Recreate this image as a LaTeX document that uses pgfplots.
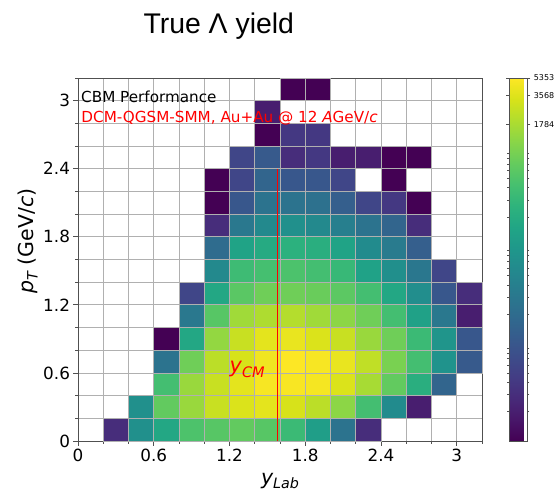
\documentclass[border=0pt]{standalone}
\usepackage{fontspec}
\setmainfont{DejaVu Sans}
\newfontfamily\arialfont{Liberation Sans}
\usepackage{pgfplots}
\pgfplotsset{compat=1.18}
\usepackage{pgfplotstable}
\usetikzlibrary{calc}

\definecolor{gridgray}{HTML}{B0B0B0}
\definecolor{spinegray}{HTML}{505050}

% one histogram bin: the axis is 404pt x 363pt over 16 x 16 bins of width 0.2
\pgfdeclareplotmark{cell}{%
  \pgfpathrectangle{\pgfpoint{-12.625pt}{-11.34375pt}}{\pgfpoint{25.25pt}{22.6875pt}}%
  \pgfusepathqfillstroke}

% Lambda yield per (y_Lab, p_T) bin: bin centres and counts (empty bins omitted)
\pgfplotstableread{
x   y   n
0.3 0.1 3
0.5 0.1 73
0.7 0.1 170
0.9 0.1 480
1.1 0.1 570
1.3 0.1 680
1.5 0.1 570
1.7 0.1 340
1.9 0.1 122
2.1 0.1 26
2.3 0.1 3
0.5 0.3 73
0.7 0.3 680
0.9 0.3 1450
1.1 0.3 2650
1.3 0.3 3400
1.5 0.3 3800
1.7 0.3 3200
1.9 0.3 2260
2.1 0.3 1230
2.3 0.3 408
2.5 0.3 62
2.7 0.3 2
0.7 0.5 408
0.9 0.5 1450
1.1 0.5 2650
1.3 0.5 3800
1.5 0.5 4900
1.7 0.5 5000
1.9 0.5 4800
2.1 0.5 3400
2.3 0.5 1750
2.5 0.5 680
2.7 0.5 220
2.9 0.5 16
0.7 0.7 26
0.9 0.7 820
1.1 0.7 2260
1.3 0.7 3200
1.5 0.7 4500
1.7 0.7 5353
1.9 0.7 4900
2.1 0.7 4100
2.3 0.7 2400
2.5 0.7 950
2.7 0.7 408
2.9 0.7 80
3.1 0.7 11
0.7 0.9 1
0.9 0.9 170
1.1 0.9 1350
1.3 0.9 2650
1.5 0.9 3800
1.7 0.9 4100
1.9 0.9 3400
2.1 0.9 2650
2.3 0.9 1450
2.5 0.9 820
2.7 0.9 340
2.9 0.9 87
3.1 0.9 10
0.9 1.1 31
1.1 1.1 570
1.3 1.1 1600
1.5 1.1 1900
1.7 1.1 2050
1.9 1.1 1600
2.1 1.1 1230
2.3 1.1 820
2.5 1.1 408
2.7 1.1 133
2.9 1.1 31
3.1 1.1 2
0.9 1.3 6
1.1 1.3 170
1.3 1.3 600
1.5 1.3 820
1.7 1.3 820
1.9 1.3 750
2.1 1.3 620
2.3 1.3 408
2.5 1.3 170
2.7 1.3 67
2.9 1.3 10
3.1 1.3 3
1.1 1.5 57
1.3 1.5 360
1.5 1.5 420
1.7 1.5 470
1.9 1.5 408
2.1 1.5 320
2.3 1.5 140
2.5 1.5 70
2.7 1.5 30
2.9 1.5 6
1.1 1.7 20
1.3 1.7 146
1.5 1.7 190
1.7 1.7 240
1.9 1.7 220
2.1 1.7 146
2.3 1.7 62
2.5 1.7 34
2.7 1.7 13
1.1 1.9 3
1.3 1.9 31
1.5 1.9 57
1.7 1.9 73
1.9 1.9 57
2.1 1.9 40
2.3 1.9 26
2.5 1.9 16
2.7 1.9 3
1.1 2.1 1
1.3 2.1 10
1.5 2.1 26
1.7 2.1 26
1.9 2.1 24
2.1 2.1 13
2.3 2.1 6
2.5 2.1 4
2.7 2.1 1
1.1 2.3 1
1.3 2.3 6
1.5 2.3 16
1.7 2.3 10
1.9 2.3 10
2.1 2.3 6
2.5 2.3 1
1.3 2.5 6
1.5 2.5 11
1.7 2.5 3
1.9 2.5 4
2.1 2.5 2
2.3 2.5 2
2.5 2.5 1
2.7 2.5 1
1.5 2.7 1
1.7 2.7 4
1.9 2.7 4
1.5 2.9 2
1.7 3.1 1
1.9 3.1 1
}\lambdayield

\begin{document}
\begin{tikzpicture}
\node[anchor=base west, inner sep=0pt, font=\arialfont\fontsize{28.4}{34}\selectfont]
  at (143.3pt,457.5pt) {True Λ yield};

\begin{axis}[
  at={(78pt,50pt)}, anchor=south west,
  scale only axis, width=404pt, height=363pt,
  xmin=0, xmax=3.2, ymin=0, ymax=3.2,
  xtick={0,0.6,1.2,1.8,2.4,3}, xticklabels={0,0.6,1.2,1.8,2.4,3},
  ytick={0,0.6,1.2,1.8,2.4,3}, yticklabels={0,0.6,1.2,1.8,2.4,3},
  minor xtick={0.2,0.4,0.8,1,1.4,1.6,2,2.2,2.6,2.8,3.2},
  minor ytick={0.2,0.4,0.8,1,1.4,1.6,2,2.2,2.6,2.8,3.2},
  grid=both,
  major grid style={gridgray, line width=0.8pt},
  minor grid style={gridgray, line width=0.8pt},
  tick align=outside, tick pos=left,
  major tick length=4.5pt, minor tick length=2.5pt,
  every tick/.style={spinegray, line width=0.8pt},
  axis line style={spinegray, line width=0.8pt},
  ticklabel style={font=\fontsize{16.8}{20}\selectfont},
  xlabel={\fontsize{20.5}{24}\selectfont\itshape y\raisebox{-4pt}{\fontsize{14.3}{16}\selectfont Lab}},
  xlabel style={at={(axis description cs:0.5,0)}, anchor=base, yshift=-43.3pt, inner sep=0pt},
  ylabel={\fontsize{20.5}{24}\selectfont\itshape p\raisebox{-4pt}{\fontsize{14.3}{16}\selectfont T}\upshape\ (GeV/\textit{c})},
  ylabel style={at={(axis description cs:-0.124,0.551)}, anchor=center, inner sep=0pt},
  colormap/viridis,
  point meta min=0, point meta max=3.7286,
  colorbar,
  colorbar style={
    at={(parent axis.north east)}, anchor=north west, xshift=18.5pt,
    width=18.3pt,
    ytick={3.2514,3.5524,3.7285},
    yticklabels={1784,3568,5353},
    minor ytick={0.3010,0.4771,0.6021,0.6990,0.7782,0.8451,0.9031,0.9542,
                 1.3010,1.4771,1.6021,1.6990,1.7782,1.8451,1.9031,1.9542,
                 2.3010,2.4771,2.6021,2.6990,2.7782,2.8451,2.9031,2.9542},
    yticklabel style={font=\fontsize{8}{9}\selectfont},
    tick align=outside,
    major tick length=3pt, minor tick length=2pt,
    every tick/.style={spinegray, line width=0.6pt},
    axis line style={spinegray, line width=0.6pt},
    grid=none,
  },
]
\addplot[scatter, only marks, mark=cell,
  mark options={line width=0.8pt},
  point meta={ln(\thisrow{n})/ln(10)},
  scatter/use mapped color={draw=gridgray, fill=mapped color}]
  table[x=x, y=y] {\lambdayield};

% anchor points for the annotations, drawn after the bins
\coordinate (ycmlo) at (axis cs:1.58,0);
\coordinate (ycmhi) at (axis cs:1.58,2.4);
\coordinate (cbmtxt) at (axis cs:0.024,2.988);
\coordinate (gentxt) at (axis cs:0.026,2.806);
\coordinate (ycmtxt) at (axis cs:1.2,0.6);
\end{axis}

% centre-of-mass rapidity: a 1.3pt red rule from p_T = 0 to 2.4
\path let \p1=(ycmlo), \p2=(ycmhi) in
  node[anchor=south, inner sep=0pt, text=red] at (ycmlo)
  {\rule{1.3pt}{\dimexpr\y2-\y1\relax}};
\node[anchor=base west, inner sep=0pt, font=\fontsize{15.2}{18}\selectfont]
  at (cbmtxt) {CBM Performance};
\node[anchor=base west, inner sep=0pt, text=red, font=\fontsize{15.2}{18}\selectfont]
  at (gentxt) {DCM-QGSM-SMM, Au+Au @ 12 \textit{A}GeV/\textit{c}};
\node[anchor=base west, inner sep=0pt, text=red, font=\fontsize{20.8}{24}\selectfont\itshape]
  at (ycmtxt) {y\raisebox{-4.2pt}{\fontsize{14.5}{16}\selectfont CM}};

% page frame
\path (0,0) rectangle (560pt,491pt);
\end{tikzpicture}
\end{document}
